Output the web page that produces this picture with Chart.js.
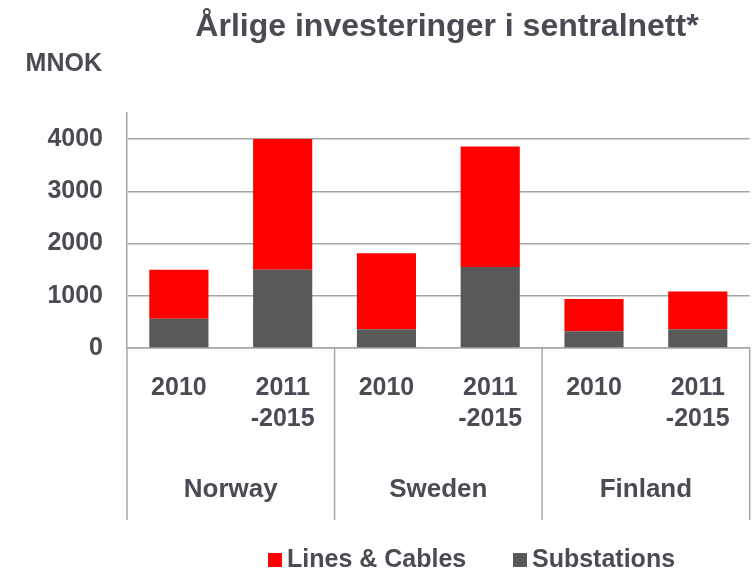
<!DOCTYPE html>
<html>
<head>
<meta charset="utf-8">
<script src="https://cdn.jsdelivr.net/npm/chart.js@4"></script>
<style>
  body { margin: 0; background: #fff; }
  #wrap { width: 754px; height: 571px; position: relative; }
</style>
</head>
<body>
<div id="wrap"><canvas id="chart"></canvas></div>
<script>
// data
const countries = ['Norway', 'Sweden', 'Finland'];
const periods = [['2010'], ['2011', '-2015']];
const substations = [560, 1500, 360, 1550, 320, 360];
const linesCables = [940, 2500, 1455, 2310, 620, 720];
const yTicks = [0, 1000, 2000, 3000, 4000];

const textColor = '#4b4b53';
const lineColor = '#a6a6a6';
const fontFam = "'Liberation Sans', Arial, sans-serif";

// labels: each country gets both periods
const labels = [];
countries.forEach(() => periods.forEach(p => labels.push(p)));

// tegner tittel, enhet, landnavn, skillelinjer og legend
const extras = {
  id: 'extras',
  afterDraw(chart) {
    const ctx = chart.ctx;
    const area = chart.chartArea;
    const x = chart.scales.x;
    const xBottom = x.bottom;
    ctx.save();
    ctx.fillStyle = textColor;

    ctx.font = 'bold 32px ' + fontFam;
    ctx.textAlign = 'center';
    ctx.textBaseline = 'alphabetic';
    ctx.fillText('Årlige investeringer i sentralnett*', 447, 36);

    ctx.font = 'bold 25px ' + fontFam;
    ctx.textAlign = 'right';
    ctx.fillText('MNOK', 102, 71);

    // group separators
    const n = periods.length;
    const edges = [area.left];
    for (let g = 1; g < countries.length; g++) {
      const i = g * n;
      edges.push((x.getPixelForValue(i - 1) + x.getPixelForValue(i)) / 2);
    }
    edges.push(area.right);
    ctx.strokeStyle = lineColor;
    ctx.lineWidth = 1.5;
    edges.forEach(e => {
      ctx.beginPath();
      ctx.moveTo(e, area.bottom);
      ctx.lineTo(e, xBottom);
      ctx.stroke();
    });

    ctx.font = 'bold 26px ' + fontFam;
    ctx.textAlign = 'center';
    ctx.textBaseline = 'middle';
    countries.forEach((c, g) => {
      ctx.fillText(c, (edges[g] + edges[g + 1]) / 2, 490);
    });

    // legend
    const items = [
      { label: chart.data.datasets[1].label, color: chart.data.datasets[1].backgroundColor, x: 268 },
      { label: chart.data.datasets[0].label, color: chart.data.datasets[0].backgroundColor, x: 513 }
    ];
    ctx.font = 'bold 25px ' + fontFam;
    ctx.textAlign = 'left';
    ctx.textBaseline = 'alphabetic';
    items.forEach(it => {
      ctx.fillStyle = it.color;
      ctx.fillRect(it.x, 553, 14, 14);
      ctx.fillStyle = textColor;
      ctx.fillText(it.label, it.x + 19, 567);
    });
    ctx.restore();
  }
};

const ctx = document.getElementById('chart').getContext('2d');
const chart = new Chart(ctx, {
  type: 'bar',
  data: {
    labels: labels,
    datasets: [{
      label: 'Substations',
      data: substations,
      backgroundColor: '#595959'
    }, {
      label: 'Lines & Cables',
      data: linesCables,
      backgroundColor: '#ff0000'
    }]
  },
  options: {
    responsive: true,
    maintainAspectRatio: false,
    animation: false,
    layout: { padding: { top: 113, right: 3, bottom: 51, left: 0 } },
    datasets: { bar: { categoryPercentage: 1, barPercentage: 0.57 } },
    plugins: {
      legend: { display: false },
      title: { display: false },
      tooltip: { enabled: false }
    },
    scales: {
      x: {
        stacked: true,
        grid: { display: false, drawTicks: false },
        border: { display: true, color: lineColor, width: 1.5 },
        ticks: {
          color: textColor,
          padding: 24,
          maxRotation: 0,
          autoSkip: false,
          font: { family: fontFam, size: 25, weight: 'bold', lineHeight: 1.25 }
        },
        afterFit(scale) { scale.height = 172; }
      },
      y: {
        stacked: true,
        min: 0,
        max: 4500,
        grid: { color: lineColor, lineWidth: 1.5, drawTicks: false },
        border: { display: true, color: lineColor, width: 1.5 },
        ticks: {
          color: textColor,
          padding: 24,
          stepSize: 1000,
          callback: v => String(v),
          font: { family: fontFam, size: 25, weight: 'bold' }
        },
        afterBuildTicks(scale) {
          scale.ticks = yTicks.map(v => ({ value: v }));
        },
        afterFit(scale) { scale.width = 127; }
      }
    }
  },
  plugins: [extras]
});
</script>
</body>
</html>
